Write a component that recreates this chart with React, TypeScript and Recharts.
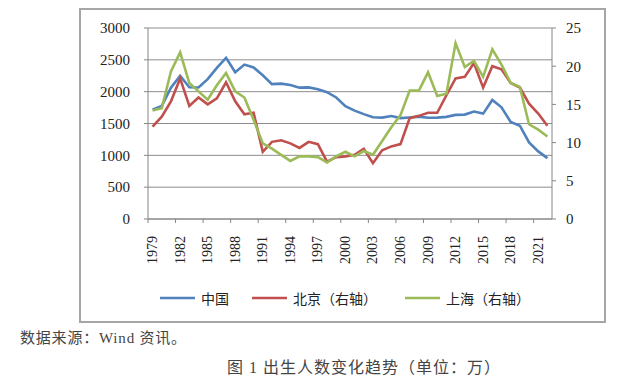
import { LineChart, Line, XAxis, YAxis, CartesianGrid } from 'recharts'

// 出生人数（万）: 中国 left axis, 北京 / 上海 right axis
const YEARS = [
  1979, 1980, 1981, 1982, 1983, 1984, 1985, 1986, 1987, 1988, 1989,
  1990, 1991, 1992, 1993, 1994, 1995, 1996, 1997, 1998, 1999, 2000,
  2001, 2002, 2003, 2004, 2005, 2006, 2007, 2008, 2009, 2010, 2011,
  2012, 2013, 2014, 2015, 2016, 2017, 2018, 2019, 2020, 2021, 2022,
]
const CHINA = [
  1715, 1776, 2064, 2250, 2070, 2065, 2196, 2374, 2530, 2304, 2425,
  2380, 2258, 2119, 2126, 2104, 2063, 2067, 2038, 1991, 1909, 1771,
  1702, 1647, 1599, 1593, 1617, 1585, 1595, 1608, 1591, 1592, 1604,
  1635, 1640, 1687, 1655, 1870, 1755, 1523, 1465, 1202, 1062, 956,
]
const BEIJING = [
  12.1, 13.4, 15.4, 18.4, 14.8, 15.9, 15.0, 15.8, 17.9, 15.4, 13.7,
  13.9, 8.8, 10.1, 10.3, 9.9, 9.3, 10.1, 9.8, 7.5, 8.1, 8.2,
  8.4, 9.2, 7.3, 9.0, 9.5, 9.8, 13.2, 13.5, 13.9, 13.9, 16.2,
  18.4, 18.6, 20.4, 17.2, 20.0, 19.6, 17.8, 17.2, 15.1, 13.8, 12.2,
]
const SHANGHAI = [
  14.2, 14.5, 19.3, 21.8, 17.8, 16.7, 15.6, 17.5, 19.1, 16.7, 15.9,
  13.0, 9.9, 9.2, 8.4, 7.6, 8.2, 8.2, 8.1, 7.4, 8.2, 8.8,
  8.2, 8.9, 8.4, 10.2, 12.0, 13.6, 16.8, 16.8, 19.2, 16.1, 16.4,
  23.0, 19.9, 20.7, 18.6, 22.2, 20.2, 17.8, 17.3, 12.4, 11.7, 10.8,
]
const LEFT_TICKS = [0, 500, 1000, 1500, 2000, 2500, 3000]
const RIGHT_TICKS = [0, 5, 10, 15, 20, 25]

const SERIES = [
  { key: 'china', name: '中国', color: '#4F81BD', axis: 'left', gap: 23 },
  { key: 'beijing', name: '北京（右轴）', color: '#C0504D', axis: 'right', gap: 28 },
  { key: 'shanghai', name: '上海（右轴）', color: '#9BBB59', axis: 'right', gap: 0 },
]

const data = YEARS.map((y, i) => ({
  year: String(y),
  china: CHINA[i],
  beijing: BEIJING[i],
  shanghai: SHANGHAI[i],
}))

const AXIS = '#868686'
const GRID = '#8c8c8c'
const INK = '#222'
const serif = '"Liberation Serif", "Times New Roman", serif'
const cjk = '"Noto Sans CJK SC", "Noto Sans", sans-serif'
const noteFont = `"Liberation Serif", ${cjk}`
const HALF_BAND = 404 / 44 / 2

function YearTick({ x, y, payload }: any) {
  const ty = y + 13
  return (
    <g>
      <line x1={x - HALF_BAND} x2={x - HALF_BAND} y1={y - 4} y2={y} stroke={AXIS} />
      <text
        x={x}
        y={ty}
        transform={`rotate(-90 ${x} ${ty})`}
        textAnchor="end"
        dominantBaseline="central"
        fontFamily={serif}
        fontSize={14}
        fill={INK}
      >
        {payload.value}
      </text>
    </g>
  )
}

export default function App() {
  return (
    <div style={{ position: 'absolute', left: 0, top: 0, width: 640, height: 384, background: '#fff', overflow: 'hidden' }}>
      <div style={{ position: 'absolute', left: 79, top: 8, width: 527, height: 315, border: '2px solid #a6a6a6', boxSizing: 'border-box' }} />

      <div style={{ position: 'absolute', left: 0, top: 0 }}>
        <LineChart width={640} height={384} data={data} margin={{ top: 28, right: 48, bottom: 125, left: 88 }}>
          <CartesianGrid yAxisId="left" vertical={false} stroke={GRID} strokeWidth={1} />
          <XAxis
            dataKey="year"
            interval={2}
            padding={{ left: HALF_BAND, right: HALF_BAND }}
            height={40}
            tickSize={4}
            tickMargin={0}
            tickLine={false}
            axisLine={{ stroke: AXIS }}
            tick={<YearTick />}
          />
          <YAxis
            yAxisId="left"
            domain={[0, 3000]}
            ticks={LEFT_TICKS}
            width={60}
            tickSize={4}
            tickMargin={14}
            axisLine={{ stroke: AXIS }}
            tickLine={{ stroke: AXIS }}
            tick={{ fontFamily: serif, fontSize: 15, fill: INK }}
          />
          <YAxis
            yAxisId="right"
            orientation="right"
            domain={[0, 25]}
            ticks={RIGHT_TICKS}
            width={40}
            tickSize={4}
            tickMargin={10}
            axisLine={{ stroke: AXIS }}
            tickLine={{ stroke: AXIS }}
            tick={{ fontFamily: serif, fontSize: 15, fill: INK }}
          />
          {SERIES.map((s) => (
            <Line
              key={s.key}
              yAxisId={s.axis}
              type="linear"
              dataKey={s.key}
              name={s.name}
              stroke={s.color}
              strokeWidth={2.6}
              dot={false}
              isAnimationActive={false}
            />
          ))}
        </LineChart>
      </div>

      <div style={{ position: 'absolute', left: 160, top: 289, display: 'flex', alignItems: 'center', fontFamily: cjk, fontSize: 14, color: INK, lineHeight: '18px', whiteSpace: 'nowrap' }}>
        {SERIES.map((s) => (
          <div key={s.key} style={{ display: 'flex', alignItems: 'center', marginRight: s.gap }}>
            <svg width={35} height={4} style={{ display: 'block' }}>
              <line x1={0} x2={35} y1={2} y2={2} stroke={s.color} strokeWidth={2.5} />
            </svg>
            <span style={{ marginLeft: 6 }}>{s.name}</span>
          </div>
        ))}
      </div>

      <div style={{ position: 'absolute', left: 20, top: 328, fontFamily: noteFont, fontSize: 15, letterSpacing: 0.8, lineHeight: '20px', color: '#444', whiteSpace: 'nowrap' }}>
        数据来源：Wind 资讯。
      </div>
      <div style={{ position: 'absolute', left: 227, top: 358, fontFamily: noteFont, fontSize: 16, letterSpacing: 1, lineHeight: '20px', color: '#444', whiteSpace: 'nowrap' }}>
        图 1 出生人数变化趋势（单位：万）
      </div>
    </div>
  )
}
